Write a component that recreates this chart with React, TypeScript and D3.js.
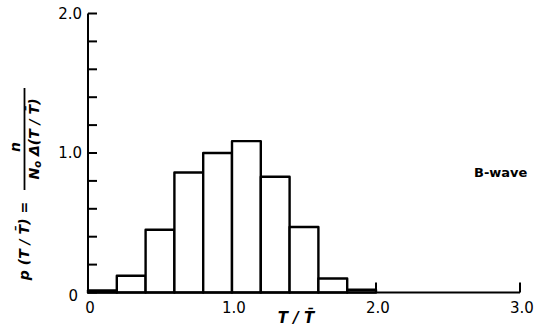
import React from "react";
import * as d3 from "d3";

// Histogram of normalized periods T/T̄, bin width 0.2
const binStarts = [0, 0.2, 0.4, 0.6, 0.8, 1.0, 1.2, 1.4, 1.6, 1.8];
const binWidth = 0.2;
const density = [0.015, 0.12, 0.45, 0.86, 1.0, 1.085, 0.83, 0.47, 0.1, 0.02];
const xTickValues = [0, 1, 2, 3];
const xTickLabels = ["0", "1.0", "2.0", "3.0"];
const yTickValues = [0, 0.2, 0.4, 0.6, 0.8, 1.0, 1.2, 1.4, 1.6, 1.8, 2.0];
const yLabelValues = [0, 1, 2];
const yLabelTexts = ["0", "1.0", "2.0"];

const W = 549;
const H = 336;

export default function App() {
  const x = d3.scaleLinear().domain([0, 3]).range([88, 520]);
  const y = d3.scaleLinear().domain([0, 2]).range([292.5, 13.5]);
  const font = "'DejaVu Sans', sans-serif";
  const tickLen = 9;

  return (
    <svg
      width={W}
      height={H}
      style={{ position: "absolute", left: 0, top: 0, background: "#fff" }}
    >
      {/* bars */}
      <g stroke="#000" strokeWidth={2.4} fill="#fff" strokeLinejoin="round">
        {binStarts.map((b, i) => (
          <rect
            key={i}
            x={x(b)}
            y={y(density[i])}
            width={x(b + binWidth) - x(b)}
            height={y(0) - y(density[i])}
          />
        ))}
      </g>

      {/* axes */}
      <g stroke="#000" strokeWidth={2} fill="none">
        <line x1={x(0)} x2={x(0)} y1={y(0) + 1} y2={y(2)} />
        <line x1={x(0)} x2={x(3)} y1={y(0)} y2={y(0)} />
        {yTickValues.map((v, i) => (
          <line key={i} x1={x(0)} x2={x(0) + tickLen} y1={y(v)} y2={y(v)} />
        ))}
        {xTickValues.slice(1).map((v, i) => (
          <line key={i} x1={x(v)} x2={x(v)} y1={y(0)} y2={y(0) - tickLen - 1} />
        ))}
      </g>

      {/* tick labels */}
      <g fontFamily={font} fontSize={15} fill="#000">
        {yLabelValues.map((v, i) => (
          <text
            key={i}
            x={x(0) - (v === 0 ? 10 : 6)}
            y={y(v) + (v === 0 ? 8 : 5)}
            textAnchor="end"
          >
            {yLabelTexts[i]}
          </text>
        ))}
        {xTickValues.map((v, i) => (
          <text key={i} x={x(v) + 2} y={313} textAnchor="middle">
            {xTickLabels[i]}
          </text>
        ))}
      </g>

      {/* x-axis title */}
      <text
        x={296}
        y={323}
        textAnchor="middle"
        fontFamily={font}
        fontSize={15}
        fontStyle="italic"
        fontWeight="bold"
      >
        T / T&#x304;
      </text>

      {/* y-axis title: p(T/T̄) = n / (N₀ Δ(T/T̄)) */}
      <g fontFamily={font} fontSize={14} fontWeight="bold" fontStyle="italic">
        <text transform="translate(29,241) rotate(-90)" textAnchor="middle">
          p (T / T&#x304;) =
        </text>
        <text transform="translate(20,147) rotate(-90)" textAnchor="middle">
          n
        </text>
        <line x1={24.5} x2={24.5} y1={88} y2={190} stroke="#000" strokeWidth={1.8} />
        <text transform="translate(39,139) rotate(-90)" textAnchor="middle">
          N<tspan fontSize={10} dy={2}>o</tspan>
          <tspan dy={-2}> Δ(T / T&#x304;)</tspan>
        </text>
      </g>

      {/* series name */}
      <text x={474} y={177} fontFamily={font} fontSize={13} fontWeight="bold">
        B-wave
      </text>
    </svg>
  );
}
